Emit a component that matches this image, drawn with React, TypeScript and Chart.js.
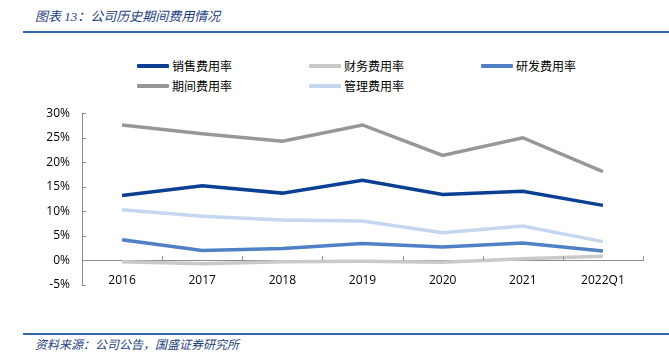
import React, { useEffect, useRef } from "react";
import { Chart, registerables } from "chart.js";

Chart.register(...registerables);

const categories = ["2016", "2017", "2018", "2019", "2020", "2021", "2022Q1"];
const salesRate = [13.2, 15.2, 13.7, 16.3, 13.4, 14.1, 11.2];
const financeRate = [-0.3, -0.7, -0.3, -0.2, -0.4, 0.3, 0.8];
const rdRate = [4.2, 2.0, 2.4, 3.4, 2.7, 3.5, 1.9];
const periodRate = [27.6, 25.8, 24.3, 27.6, 21.4, 25.0, 18.1];
const adminRate = [10.3, 9.0, 8.2, 8.0, 5.6, 7.0, 3.8];
const yTicks = [-5, 0, 5, 10, 15, 20, 25, 30];

const series = [
  { label: "销售费用率", data: salesRate, color: "#0b3f94" },
  { label: "财务费用率", data: financeRate, color: "#c9c9c9" },
  { label: "研发费用率", data: rdRate, color: "#4f80c5" },
  { label: "期间费用率", data: periodRate, color: "#979797" },
  { label: "管理费用率", data: adminRate, color: "#c5d7ef" },
];

const title = "图表 13：公司历史期间费用情况";
const source = "资料来源：公司公告，国盛证券研究所";

const AXIS_COLOR = "#8c8c8c";
const TICK_FONT = "'Open Sans', 'DejaVu Sans', sans-serif";

const innerTicks = {
  id: "innerTicks",
  afterDraw(chart: any) {
    const ctx = chart.ctx;
    const x = chart.scales.x;
    const y = chart.scales.y;
    const zeroY = y.getPixelForValue(0);
    ctx.save();
    ctx.strokeStyle = AXIS_COLOR;
    ctx.lineWidth = 1;
    const n = categories.length;
    for (let i = 1; i <= n; i++) {
      const px = Math.round(x.left + ((x.right - x.left) * i) / n) + 0.5;
      ctx.beginPath();
      ctx.moveTo(px, zeroY);
      ctx.lineTo(px, zeroY - 4);
      ctx.stroke();
    }
    for (const v of yTicks) {
      const py = Math.round(y.getPixelForValue(v)) + 0.5;
      ctx.beginPath();
      ctx.moveTo(y.right, py);
      ctx.lineTo(y.right + 4, py);
      ctx.stroke();
    }
    ctx.restore();
  },
};

function ChartCanvas() {
  const ref = useRef<HTMLCanvasElement>(null);
  useEffect(() => {
    const chart = new Chart(ref.current as HTMLCanvasElement, {
      type: "line",
      data: {
        labels: categories,
        datasets: series.map((s) => ({
          label: s.label,
          data: s.data,
          borderColor: s.color,
          backgroundColor: s.color,
          borderWidth: 3.5,
          pointRadius: 0,
          tension: 0,
          fill: false,
        })),
      },
      options: {
        animation: false,
        responsive: false,
        events: [],
        layout: { padding: { top: 7, right: 26, bottom: 12, left: 0 } },
        plugins: { legend: { display: false }, tooltip: { enabled: false } },
        scales: {
          x: {
            type: "category",
            position: { y: 0 } as any,
            offset: true,
            grid: { display: false, drawTicks: false },
            border: { display: true, color: AXIS_COLOR, width: 1 },
            ticks: {
              padding: 13,
              color: "#000",
              font: { family: TICK_FONT, size: 12 },
              maxRotation: 0,
            },
          },
          y: {
            min: -5,
            max: 30,
            afterFit(scale: any) {
              scale.width = 82;
            },
            afterBuildTicks(scale: any) {
              scale.ticks = yTicks.map((v) => ({ value: v }));
            },
            grid: { display: false, drawTicks: false },
            border: { display: true, color: AXIS_COLOR, width: 1 },
            ticks: {
              padding: 12,
              color: "#000",
              font: { family: TICK_FONT, size: 12 },
              callback: (v: any) => `${v}%`,
            },
          },
        },
      },
      plugins: [innerTicks],
    });
    return () => chart.destroy();
  }, []);
  return (
    <canvas
      ref={ref}
      width={669}
      height={210}
      style={{ position: "absolute", left: 0, top: 94, width: 669, height: 210 }}
    />
  );
}

export default function App() {
  const legendCols = [137, 309, 481];
  const legendRows = [66, 86];
  return (
    <div
      style={{
        position: "fixed",
        left: 0,
        top: 0,
        width: 669,
        height: 364,
        background: "#fff",
        overflow: "hidden",
      }}
    >
      <div
        style={{
          position: "absolute",
          left: 35,
          top: 8,
          fontSize: 13,
          fontStyle: "italic",
          color: "#1f3f7f",
          fontFamily: "'Liberation Serif', 'Noto Sans CJK SC', serif",
          whiteSpace: "nowrap",
          lineHeight: "18px",
        }}
      >
        {title}
      </div>
      <div style={{ position: "absolute", left: 23, top: 31, width: 646, height: 2, background: "#3566b0" }} />
      {series.map((s, i) => {
        const col = i % 3;
        const row = Math.floor(i / 3);
        return (
          <div
            key={s.label}
            style={{
              position: "absolute",
              left: legendCols[col],
              top: legendRows[row] - 9,
              height: 18,
              display: "flex",
              alignItems: "center",
              whiteSpace: "nowrap",
            }}
          >
            <div style={{ width: 32, height: 4, background: s.color, borderRadius: 1 }} />
            <span
              style={{
                marginLeft: 3,
                fontSize: 12,
                color: "#000",
                fontFamily: "'Noto Sans CJK SC', sans-serif",
                lineHeight: "18px",
              }}
            >
              {s.label}
            </span>
          </div>
        );
      })}
      <ChartCanvas />
      <div style={{ position: "absolute", left: 23, top: 333, width: 646, height: 2, background: "#3566b0" }} />
      <div
        style={{
          position: "absolute",
          left: 35,
          top: 335,
          fontSize: 12,
          fontStyle: "italic",
          color: "#1f3f7f",
          fontFamily: "'Noto Sans CJK SC', serif",
          whiteSpace: "nowrap",
          lineHeight: "17px",
        }}
      >
        {source}
      </div>
    </div>
  );
}
